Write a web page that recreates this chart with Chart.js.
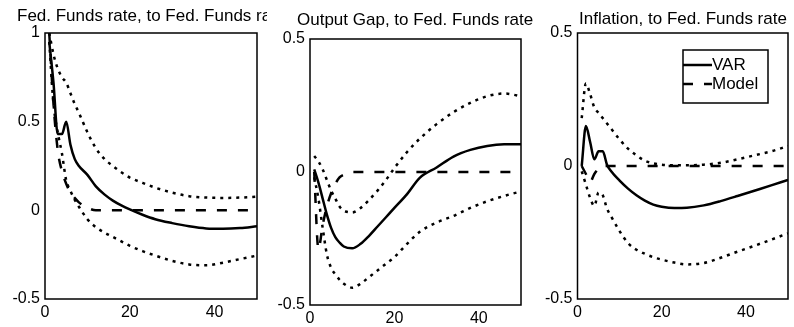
<!DOCTYPE html>
<html>
<head>
<meta charset="utf-8">
<script src="https://cdn.jsdelivr.net/npm/chart.js@4.4.1/dist/chart.umd.min.js"></script>
<style>
  body { margin: 0; background: #fff; }
  #wrap { position: relative; width: 794px; height: 327px; overflow: hidden; background: #fff; }
  #wrap canvas { position: absolute; top: 0; }
</style>
</head>
<body>
<div id="wrap">
  <canvas id="ffrChart" width="267" height="327" style="left:0px"></canvas>
  <canvas id="gapChart" width="276" height="327" style="left:268px"></canvas>
  <canvas id="inflChart" width="250" height="327" style="left:544px"></canvas>
</div>
<script>
const horizons = [1, 2, 3, 4, 5, 6, 7, 8, 10, 12, 14, 16, 18, 20, 23, 26, 30, 34, 38, 42, 46, 50];
const xTickValues = [0, 20, 40];

// Fed. Funds rate -> Fed. Funds rate
const ffrVar = [0.95, 0.72, 0.43, 0.43, 0.5, 0.37, 0.29, 0.25, 0.2, 0.135, 0.09, 0.055, 0.028, 0.005, -0.025, -0.05, -0.072, -0.09, -0.102, -0.104, -0.1, -0.09];
const ffrModel = [1.0, 0.6, 0.34, 0.22, 0.15, 0.1, 0.07, 0.045, 0.015, 0, 0, 0, 0, 0, 0, 0, 0, 0, 0, 0, 0, 0];
const ffrUpper = [1.0, 0.88, 0.8, 0.75, 0.72, 0.66, 0.6, 0.55, 0.44, 0.35, 0.29, 0.25, 0.215, 0.185, 0.155, 0.128, 0.1, 0.08, 0.072, 0.07, 0.072, 0.077];
const ffrLower = [0.95, 0.6, 0.44, 0.32, 0.17, 0.11, 0.06, 0.02, -0.05, -0.095, -0.125, -0.15, -0.175, -0.2, -0.23, -0.255, -0.285, -0.305, -0.31, -0.295, -0.275, -0.255];
const ffrYTicks = [-0.5, 0, 0.5, 1];

// Output gap -> Fed. Funds rate
const gapVar = [0.01, -0.04, -0.1, -0.16, -0.21, -0.245, -0.265, -0.28, -0.287, -0.27, -0.24, -0.205, -0.17, -0.135, -0.083, -0.022, 0.017, 0.058, 0.083, 0.098, 0.104, 0.104];
const gapModel = [0, -0.29, -0.2, -0.13, -0.08, -0.045, -0.02, -0.01, 0, 0, 0, 0, 0, 0, 0, 0, 0, 0, 0, 0, 0, 0];
const gapUpper = [0.06, 0.04, 0.01, -0.03, -0.07, -0.1, -0.13, -0.145, -0.152, -0.135, -0.105, -0.07, -0.03, 0.015, 0.075, 0.125, 0.18, 0.225, 0.26, 0.285, 0.295, 0.285];
const gapLower = [-0.02, -0.1, -0.21, -0.31, -0.36, -0.385, -0.405, -0.42, -0.435, -0.42, -0.395, -0.37, -0.345, -0.32, -0.27, -0.225, -0.19, -0.165, -0.135, -0.11, -0.09, -0.073];

// Inflation -> Fed. Funds rate
const inflVar = [0, 0.15, 0.09, 0.025, 0.055, 0.055, 0.005, -0.02, -0.055, -0.085, -0.11, -0.13, -0.145, -0.153, -0.158, -0.157, -0.148, -0.132, -0.113, -0.093, -0.073, -0.052];
const inflModel = [0, -0.03, -0.06, -0.03, -0.01, 0, 0, 0, 0, 0, 0, 0, 0, 0, 0, 0, 0, 0, 0, 0, 0, 0];
const inflUpper = [0.18, 0.31, 0.27, 0.22, 0.2, 0.18, 0.16, 0.14, 0.1, 0.065, 0.04, 0.02, 0.01, 0.005, 0.003, 0.003, 0.005, 0.012, 0.025, 0.04, 0.055, 0.075];
const inflLower = [-0.02, -0.07, -0.12, -0.15, -0.1, -0.11, -0.16, -0.19, -0.245, -0.29, -0.315, -0.33, -0.343, -0.352, -0.363, -0.37, -0.365, -0.345, -0.322, -0.3, -0.277, -0.253];
const smallYTicks = [-0.5, 0, 0.5];

const legendLabels = ["VAR", "Model"];

const FONT = '"Liberation Sans", Arial, Helvetica, sans-serif';

document.addEventListener("DOMContentLoaded", function () {
  Chart.defaults.font.family = FONT;
  Chart.defaults.font.size = 16;
  Chart.defaults.color = "#000";

  makePanel("ffrChart", {
    title: "Fed. Funds rate, to Fed. Funds rate",
    titlePos: { x: 17, y: 16 },
    area: { left: 45, right: 257, top: 33, bottom: 299 },
    yMin: -0.5,
    yMax: 1,
    yTicks: ffrYTicks,
    series: [ffrVar, ffrModel, ffrUpper, ffrLower],
    legend: false,
  });

  makePanel("gapChart", {
    title: "Output Gap, to Fed. Funds rate",
    titlePos: { x: 29, y: 20.5 },
    area: { left: 42, right: 253, top: 39, bottom: 305 },
    yMin: -0.5,
    yMax: 0.5,
    yTicks: smallYTicks,
    series: [gapVar, gapModel, gapUpper, gapLower],
    legend: false,
  });

  makePanel("inflChart", {
    title: "Inflation, to Fed. Funds rate",
    titlePos: { x: 35, y: 19 },
    area: { left: 33.5, right: 244, top: 33, bottom: 299 },
    yMin: -0.5,
    yMax: 0.5,
    yTicks: smallYTicks,
    series: [inflVar, inflModel, inflUpper, inflLower],
    legend: { x: 139, y: 50, w: 85, h: 53 },
  });
});

function lineSet(label, values, width, dash) {
  return {
    label: label,
    data: horizons.map((h, i) => ({ x: h, y: values[i] })),
    borderColor: "#000",
    backgroundColor: "#000",
    borderWidth: width,
    borderDash: dash,
    borderCapStyle: "butt",
    pointRadius: 0,
    fill: false,
    cubicInterpolationMode: "monotone",
  };
}

// axes box, like matlab's "box on"
const framePlugin = {
  id: "frame",
  afterDraw(chart) {
    const { ctx, chartArea } = chart;
    ctx.save();
    ctx.strokeStyle = "#000";
    ctx.lineWidth = 1.5;
    ctx.strokeRect(chartArea.left, chartArea.top, chartArea.right - chartArea.left, chartArea.bottom - chartArea.top);
    ctx.restore();
  },
};

const panelTitlePlugin = {
  id: "panelTitle",
  afterDraw(chart, args, opts) {
    if (!opts.text) return;
    const ctx = chart.ctx;
    ctx.save();
    ctx.fillStyle = "#000";
    ctx.font = "17px " + FONT;
    ctx.textAlign = "left";
    ctx.textBaseline = "middle";
    ctx.fillText(opts.text, opts.x, opts.y);
    ctx.restore();
  },
};

const boxLegendPlugin = {
  id: "boxLegend",
  afterDraw(chart, args, opts) {
    if (!opts.box) return;
    const { ctx } = chart;
    const b = opts.box;
    ctx.save();
    ctx.fillStyle = "#fff";
    ctx.fillRect(b.x, b.y, b.w, b.h);
    ctx.strokeStyle = "#000";
    ctx.lineWidth = 1.5;
    ctx.strokeRect(b.x, b.y, b.w, b.h);

    legendLabels.forEach((name, i) => {
      const ds = chart.data.datasets.find((d) => d.label === name);
      const y = b.y + 15 + i * 19;
      ctx.beginPath();
      ctx.setLineDash(ds.borderDash || []);
      ctx.lineWidth = ds.borderWidth;
      ctx.strokeStyle = ds.borderColor;
      ctx.moveTo(b.x, y);
      ctx.lineTo(b.x + 29, y);
      ctx.stroke();
      ctx.setLineDash([]);
      ctx.fillStyle = "#000";
      ctx.font = "17px " + FONT;
      ctx.textAlign = "left";
      ctx.textBaseline = "middle";
      ctx.fillText(ds.label, b.x + 29, y);
    });
    ctx.restore();
  },
};

function makePanel(canvasId, cfg) {
  const canvas = document.getElementById(canvasId);
  const W = canvas.width;
  const H = canvas.height;
  const a = cfg.area;
  const [varVals, modelVals, upperVals, lowerVals] = cfg.series;

  return new Chart(canvas.getContext("2d"), {
    type: "line",
    data: {
      datasets: [
        lineSet("Upper", upperVals, 2.5, [3, 5]),
        lineSet("Lower", lowerVals, 2.5, [3, 5]),
        lineSet("Model", modelVals, 2.5, [10, 11]),
        lineSet("VAR", varVals, 2.5, []),
      ],
    },
    options: {
      responsive: false,
      animation: false,
      layout: {
        padding: { left: 0, top: a.top, right: W - a.right, bottom: 0 },
      },
      plugins: {
        legend: { display: false },
        tooltip: { enabled: false },
        title: { display: false },
        panelTitle: { text: cfg.title, x: cfg.titlePos.x, y: cfg.titlePos.y },
        boxLegend: { box: cfg.legend },
      },
      scales: {
        x: {
          type: "linear",
          min: 0,
          max: 50,
          grid: { display: false, drawTicks: false, tickLength: 0 },
          border: { display: false },
          ticks: { padding: 4, maxRotation: 0, callback: (v) => String(v) },
          afterBuildTicks: (scale) => {
            scale.ticks = xTickValues.map((v) => ({ value: v }));
          },
          afterFit: (scale) => {
            scale.height = H - a.bottom;
          },
        },
        y: {
          min: cfg.yMin,
          max: cfg.yMax,
          grid: { display: false, drawTicks: false, tickLength: 0 },
          border: { display: false },
          ticks: { padding: 5, callback: (v) => String(v) },
          afterBuildTicks: (scale) => {
            scale.ticks = cfg.yTicks.map((v) => ({ value: v }));
          },
          afterFit: (scale) => {
            scale.width = a.left;
          },
        },
      },
    },
    plugins: [framePlugin, panelTitlePlugin, boxLegendPlugin],
  });
}
</script>
</body>
</html>
